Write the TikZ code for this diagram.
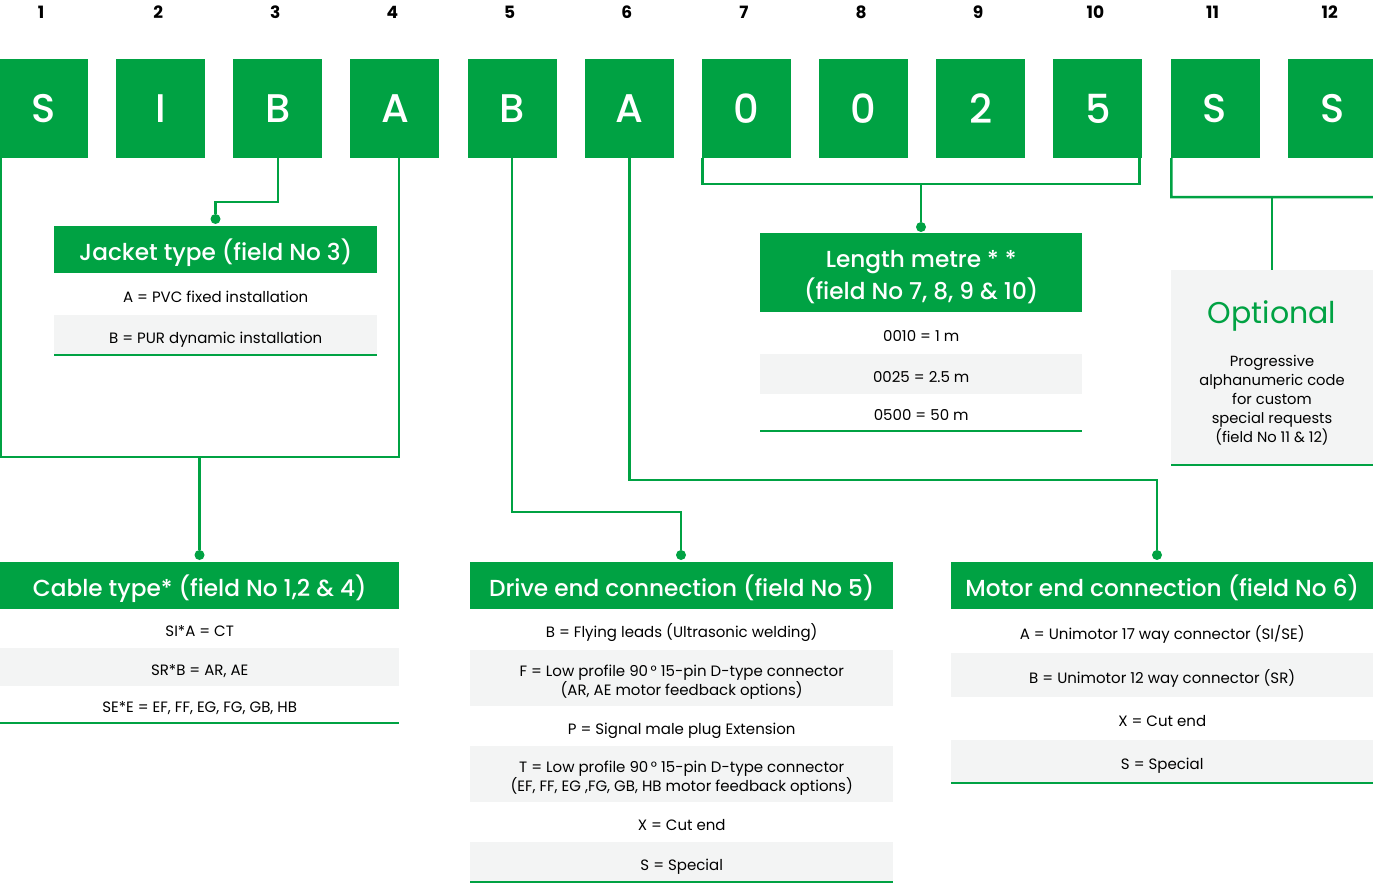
\documentclass[tikz,border=0pt]{standalone}
\usepackage{fontspec}
\setmainfont{Poppins}
\newfontfamily\medfont{Poppins Medium}
\usetikzlibrary{positioning}
\definecolor{cgreen}{RGB}{0,162,67}
\definecolor{rowgray}{RGB}{243,244,244}

\begin{document}
\begin{tikzpicture}[x=1pt, y=-1pt, every node/.style={inner sep=0pt},
  digit/.style={font=\fontsize{17}{17}\selectfont\bfseries},
  letter/.style={fill=cgreen, text=white, minimum width=89pt, minimum height=99pt, font=\medfont\fontsize{40}{40}\selectfont},
  head/.style={fill=cgreen, text=white, anchor=north west, align=center, text height=21pt, text depth=0pt, font=\medfont\fontsize{23.2}{32}\selectfont},
  row/.style={anchor=north west, align=center, text height=16pt, text depth=0pt, font=\fontsize{15}{19}\selectfont},
  tworow/.style={row, text height=35pt},
  grayrow/.style={row, fill=rowgray},
  link/.style={draw=cgreen, line width=2.5pt},
  endline/.style={draw=cgreen, line width=2pt},
  dot/.style={circle, fill=cgreen, minimum size=10pt}]
\useasboundingbox (0,0) rectangle (1373,885);

\foreach \i/\c in {1/S,2/I,3/B,4/A,5/B,6/A,7/0,8/0,9/2,10/5,11/S,12/S} {
  \node[digit] (n\i) at ({41+(\i-1)*117.15},12) {\i};
  \node[letter] (b\i) at ({43.5+(\i-1)*117.15},108.5) {\c};
}

% jacket type
\node[head, minimum width=323pt, minimum height=47pt] (jh) at (54,226) {Jacket type (field No 3)};
\node[row, minimum width=323pt, minimum height=42pt] (ja) at (54,273) {A = PVC fixed installation};
\node[grayrow, minimum width=323pt, minimum height=40pt] (jb) at (54,315) {B = PUR dynamic installation};
\draw[endline] (jb.south west) -- (jb.south east);
\node[dot] (jdot) at (215.5,219) {};
\draw[link] (b3.south) -- ++(0,44) -| (jdot);

% length
\node[head, text height=53pt, minimum width=322pt, minimum height=79pt] (lh) at (760,233) {Length metre * *\\(field No 7, 8, 9 \& 10)};
\node[row, minimum width=322pt, minimum height=42pt] (la) at (760,312) {0010 = 1 m};
\node[grayrow, minimum width=322pt, minimum height=40pt] (lb) at (760,354) {0025 = 2.5 m};
\node[row, minimum width=322pt, minimum height=37pt] (lc) at (760,394) {0500 = 50 m};
\draw[endline] (lc.south west) -- (lc.south east);
\node[dot] (ldot) at (921,227) {};
\draw[link] ([xshift=1pt]b7.south west) -- ++(0,26) coordinate (lleft) -| ([xshift=-3pt]b10.south east);
\draw[link] (lleft -| ldot) -- (ldot);

% optional
\node[grayrow, minimum width=202pt, minimum height=195pt] (op) at (1171,270) {};
\node[font=\fontsize{30}{30}\selectfont, text=cgreen] (opt) at (1272,316) {Optional};
\node[font=\fontsize{14.7}{19}\selectfont, align=center, anchor=north] (optx) at (1272,355) {Progressive\\alphanumeric code\\for custom\\special requests\\(field No 11 \& 12)};
\draw[endline] (op.south west) -- (op.south east);
\draw[link] ([xshift=1pt]b11.south west) -- ++(0,39) coordinate (oleft) -- (1380,197);
\draw[link] (oleft -| op.north) -- (op.north);

% cable type
\node[head, minimum width=399pt, minimum height=47pt] (ch) at (0,562) {Cable type* (field No 1,2 \& 4)};
\node[row, minimum width=399pt, minimum height=39pt] (ca) at (0,609) {SI*A = CT};
\node[grayrow, minimum width=399pt, minimum height=38pt] (cb) at (0,648) {SR*B = AR, AE};
\node[row, minimum width=399pt, minimum height=37pt] (cc) at (0,686) {SE*E = EF, FF, EG, FG, GB, HB};
\draw[endline] (cc.south west) -- (cc.south east);
\node[dot] (cdot) at (199.5,555) {};
\draw[link] ([xshift=2pt]b1.south west) -- ++(0,299) coordinate (cleft) -| ([xshift=4pt]b4.south);
\draw[link] (cleft -| cdot) -- (cdot);

% drive end
\node[head, minimum width=423pt, minimum height=47pt] (dh) at (470,562) {Drive end connection (field No 5)};
\node[row, minimum width=423pt, minimum height=41pt] (da) at (470,609) {B = Flying leads (Ultrasonic welding)};
\node[grayrow, tworow, minimum width=423pt, minimum height=56pt] (db) at (470,650) {F = Low profile 90\,° 15-pin D-type connector\\(AR, AE motor feedback options)};
\node[row, minimum width=423pt, minimum height=40pt] (dc) at (470,706) {P = Signal male plug Extension};
\node[grayrow, tworow, minimum width=423pt, minimum height=56pt] (dd) at (470,746) {T = Low profile 90\,° 15-pin D-type connector\\(EF, FF, EG ,FG, GB, HB motor feedback options)};
\node[row, minimum width=423pt, minimum height=40pt] (de) at (470,802) {X = Cut end};
\node[grayrow, minimum width=423pt, minimum height=40pt] (df) at (470,842) {S = Special};
\draw[endline] (df.south west) -- (df.south east);
\node[dot] (ddot) at (681,555) {};
\draw[link] (b5.south) -- ++(0,354) -| (ddot);

% motor end
\node[head, minimum width=422pt, minimum height=47pt] (mh) at (951,562) {Motor end connection (field No 6)};
\node[row, minimum width=422pt, minimum height=44pt] (ma) at (951,609) {A = Unimotor 17 way connector (SI/SE)};
\node[grayrow, minimum width=422pt, minimum height=44pt] (mb) at (951,653) {B = Unimotor 12 way connector (SR)};
\node[row, minimum width=422pt, minimum height=43pt] (mc) at (951,697) {X = Cut end};
\node[grayrow, minimum width=422pt, minimum height=43pt] (md) at (951,740) {S = Special};
\draw[endline] (md.south west) -- (md.south east);
\node[dot] (mdot) at (1157,555) {};
\draw[link] (b6.south) -- ++(0,322) -| (mdot);
\end{tikzpicture}
\end{document}
